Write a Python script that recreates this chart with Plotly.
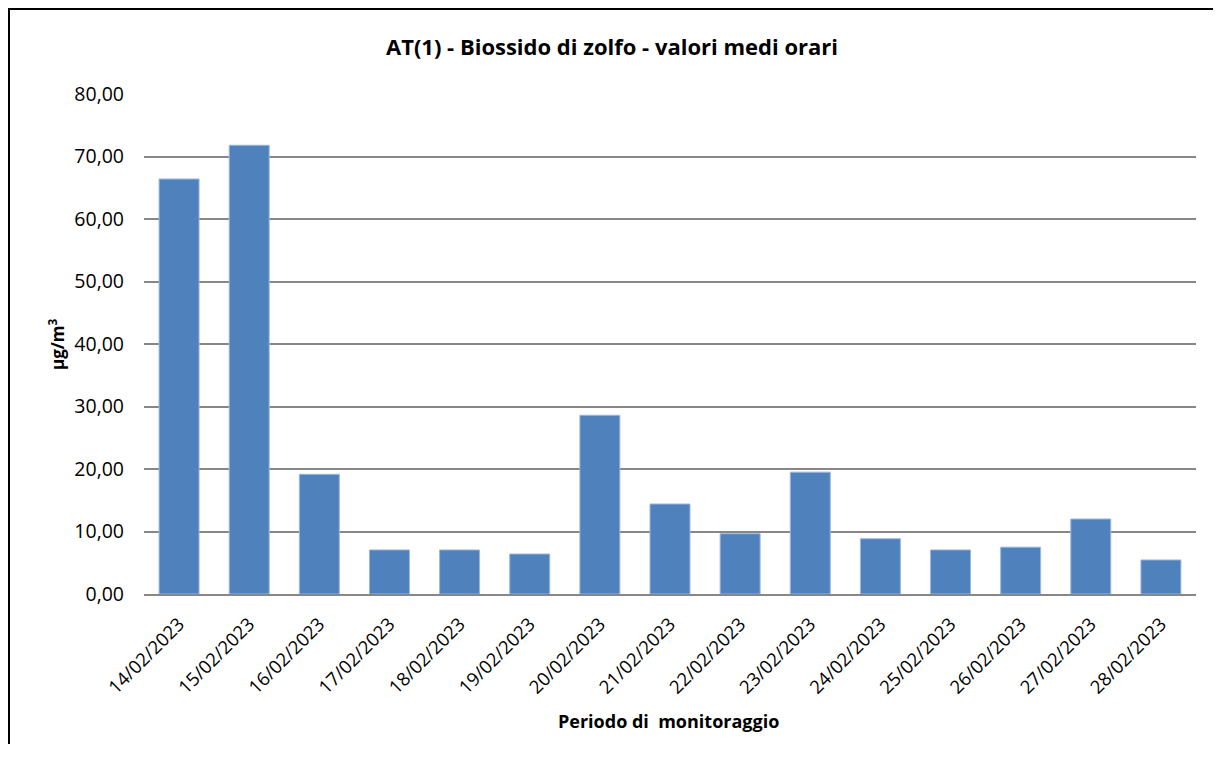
import plotly.graph_objects as go

dates = ["14/02/2023", "15/02/2023", "16/02/2023", "17/02/2023", "18/02/2023",
         "19/02/2023", "20/02/2023", "21/02/2023", "22/02/2023", "23/02/2023",
         "24/02/2023", "25/02/2023", "26/02/2023", "27/02/2023", "28/02/2023"]
so2 = [66.4, 71.8, 19.15, 7.05, 7.05, 6.4, 28.6, 14.4, 9.65, 19.5, 8.85, 7.05, 7.5, 12.0, 5.45]
y_ticks = [0, 10, 20, 30, 40, 50, 60, 70, 80]

# page has an 8px body margin: figure origin sits at screen (8, 8)
OFF = 8
W, H = 1205, 736
# plot area in screen (reference) pixels
L, R, T, B = 144, 1196, 94, 594
pw, ph = R - L, B - T

def px(x):
    return (x - L) / pw

def py(y):
    return (B - y) / ph

FONT = "Open Sans"

fig = go.Figure()
fig.add_trace(go.Bar(
    x=dates, y=so2,
    marker=dict(color="#4F81BD", line=dict(color="#9db7dc", width=1)),
))

edge_x = OFF + W + 30     # beyond the right edge of the figure
edge_y = OFF + H + 30     # beyond the bottom edge of the figure
xa, ya = px(OFF + 1), py(OFF + 1)
border_path = f"M {xa},{py(edge_y)} L {xa},{ya} L {px(edge_x)},{ya}"

fig.update_layout(
    width=W, height=H,
    margin=dict(l=L - OFF, r=W - (R - OFF), t=T - OFF, b=H - (B - OFF)),
    paper_bgcolor="white", plot_bgcolor="white",
    separators=",.",
    bargap=0.43,
    showlegend=False,
    font=dict(family=FONT, color="black", size=18),
    title=dict(text="<b>AT(1) - Biossido di zolfo - valori medi orari</b>",
               x=(612 - OFF) / W, xanchor="center", xref="container",
               y=1 - (47 - OFF) / H, yanchor="middle", yref="container",
               font=dict(family=FONT, size=22, color="black")),
    xaxis=dict(type="category", showgrid=False, showline=True,
               linecolor="#878787", linewidth=2, ticks="",
               tickangle=-45, tickfont=dict(family=FONT, size=18.5),
               ticklabelstandoff=10, zeroline=False),
    yaxis=dict(range=[0, 80], tickvals=y_ticks, tickformat=".2f",
               showgrid=True, gridcolor="#878787", gridwidth=1.6,
               showline=False, zeroline=False, ticks="",
               tickfont=dict(family=FONT, size=19.5),
               ticklabelstandoff=19),
    shapes=[dict(type="path", xref="paper", yref="paper", path=border_path,
                 line=dict(color="black", width=2), fillcolor="rgba(0,0,0,0)")],
    annotations=[
        dict(text="<b>µg/m<sup>3</sup></b>", xref="paper", yref="paper",
             x=px(56), y=py(344), xanchor="center", yanchor="middle",
             textangle=-90, showarrow=False,
             font=dict(family=FONT, size=17, color="black")),
        dict(text="<b>Periodo di  monitoraggio</b>", xref="paper", yref="paper",
             x=px(668), y=py(721), xanchor="center", yanchor="middle",
             showarrow=False, font=dict(family=FONT, size=18, color="black")),
    ],
)

fig.write_html("out.html")
